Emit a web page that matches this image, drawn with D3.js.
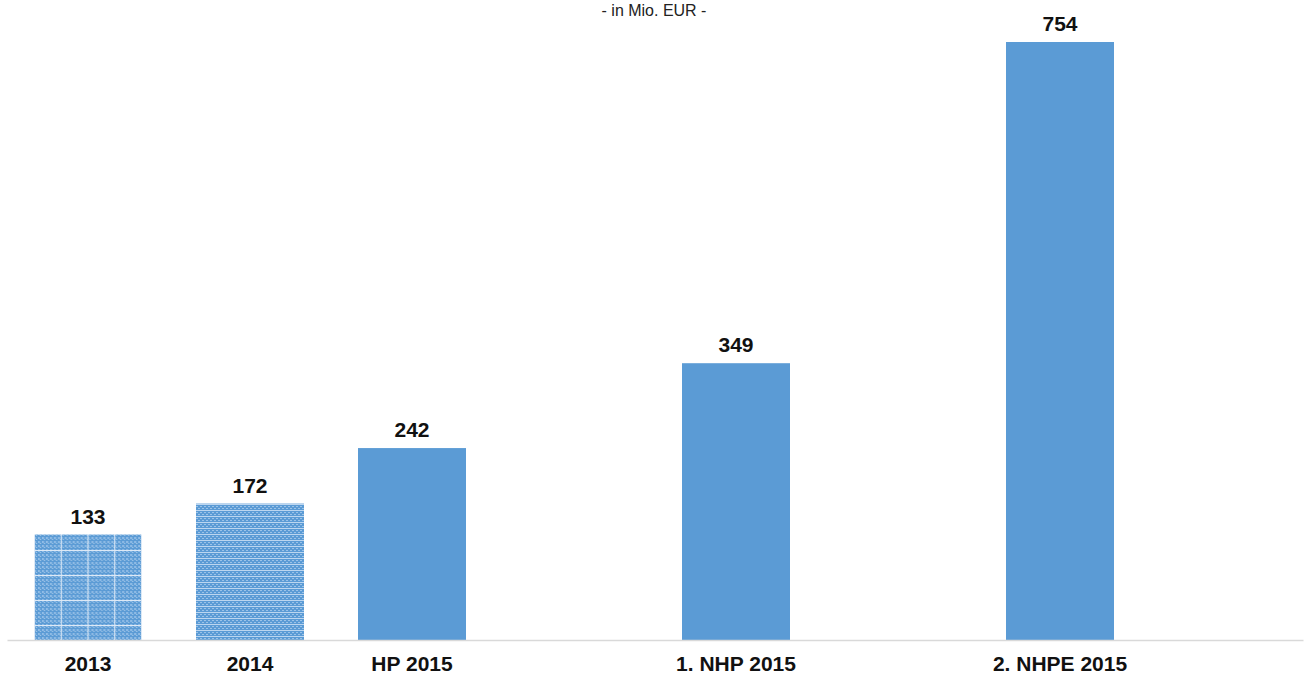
<!DOCTYPE html>
<html>
<head>
<meta charset="utf-8">
<script src="https://cdn.jsdelivr.net/npm/d3@7"></script>
<style>
  body { margin: 0; background: #fff; }
  svg { display: block; font-family: "Liberation Sans", Arial, sans-serif; }
</style>
</head>
<body>
<div id="chart"></div>
<script>
// chart data
const slots = ["2013", "2014", "HP 2015", "gap1", "1. NHP 2015", "gap2", "2. NHPE 2015", "gap3"];
const categories = ["2013", "2014", "HP 2015", "1. NHP 2015", "2. NHPE 2015"];
const values = [133, 172, 242, 349, 754];
const fills = ["url(#grid)", "url(#stripes)", "#5b9bd5", "#5b9bd5", "#5b9bd5"];

const width = 1304;
const height = 675;
const margin = {left: 7, right: 1, top: 42, bottom: 35};

const svg = d3.select("#chart")
  .append("svg")
  .attr("width", width)
  .attr("height", height);

// patterns for the two actual years
const defs = svg.append("defs");

const dots = defs.append("pattern")
  .attr("id", "dots")
  .attr("patternUnits", "userSpaceOnUse")
  .attr("width", 4).attr("height", 4);
dots.append("rect").attr("width", 4).attr("height", 4).attr("fill", "#5b9bd5");
dots.append("rect").attr("x", 0).attr("y", 0).attr("width", 2).attr("height", 2).attr("fill", "#92bde6");
dots.append("rect").attr("x", 2).attr("y", 2).attr("width", 1).attr("height", 1).attr("fill", "#c4dcf2");

const grid = defs.append("pattern")
  .attr("id", "grid")
  .attr("patternUnits", "userSpaceOnUse")
  .attr("x", 34).attr("y", 0)
  .attr("width", 26.75).attr("height", 25);
grid.append("rect").attr("width", 26.75).attr("height", 25).attr("fill", "url(#dots)");
grid.append("rect").attr("width", 26.75).attr("height", 1).attr("fill", "#dde9f6");
grid.append("rect").attr("width", 1).attr("height", 25).attr("fill", "#dde9f6");

const stripes = defs.append("pattern")
  .attr("id", "stripes")
  .attr("patternUnits", "userSpaceOnUse")
  .attr("width", 4).attr("height", 6);
stripes.append("rect").attr("width", 4).attr("height", 6).attr("fill", "#5b9bd5");
stripes.append("rect").attr("y", 0).attr("width", 4).attr("height", 1).attr("fill", "#bcd6f0");
stripes.append("rect").attr("x", 0).attr("y", 2).attr("width", 2).attr("height", 1).attr("fill", "#9cc3e8");
stripes.append("rect").attr("x", 2).attr("y", 4).attr("width", 2).attr("height", 1).attr("fill", "#9cc3e8");

// scales
const x = d3.scaleBand()
  .domain(slots)
  .range([margin.left, width - margin.right])
  .paddingInner(1 / 3)
  .paddingOuter(1 / 6);

const y = d3.scaleLinear()
  .domain([0, d3.max(values)])
  .range([height - margin.bottom, margin.top]);

// title
svg.append("text")
  .attr("x", 654)
  .attr("y", 16)
  .attr("text-anchor", "middle")
  .attr("font-size", "16px")
  .attr("fill", "#222")
  .text("- in Mio. EUR -");

// bars
svg.selectAll(".bar")
  .data(categories)
  .enter()
  .append("rect")
  .attr("class", "bar")
  .attr("x", d => x(d))
  .attr("y", (d, i) => y(values[i]))
  .attr("width", x.bandwidth())
  .attr("height", (d, i) => y(0) - y(values[i]))
  .attr("fill", (d, i) => fills[i]);

// value labels
svg.selectAll(".val")
  .data(categories)
  .enter()
  .append("text")
  .attr("class", "val")
  .attr("x", d => x(d) + x.bandwidth() / 2)
  .attr("y", (d, i) => y(values[i]) - 11)
  .attr("text-anchor", "middle")
  .attr("font-size", "21px")
  .attr("font-weight", "bold")
  .attr("fill", "#111")
  .text((d, i) => values[i]);

// x axis
const xAxis = svg.append("g")
  .attr("transform", `translate(0,${y(0)})`)
  .call(d3.axisBottom(x)
    .tickSize(0)
    .tickSizeOuter(0)
    .tickPadding(16)
    .tickFormat(d => categories.includes(d) ? d : ""));

xAxis.select(".domain")
  .attr("stroke", "#d9d9d9")
  .attr("stroke-width", 1.5);

xAxis.selectAll("text")
  .attr("font-family", "'Liberation Sans', Arial, sans-serif")
  .attr("font-size", "21px")
  .attr("font-weight", "bold")
  .attr("fill", "#111");
</script>
</body>
</html>
